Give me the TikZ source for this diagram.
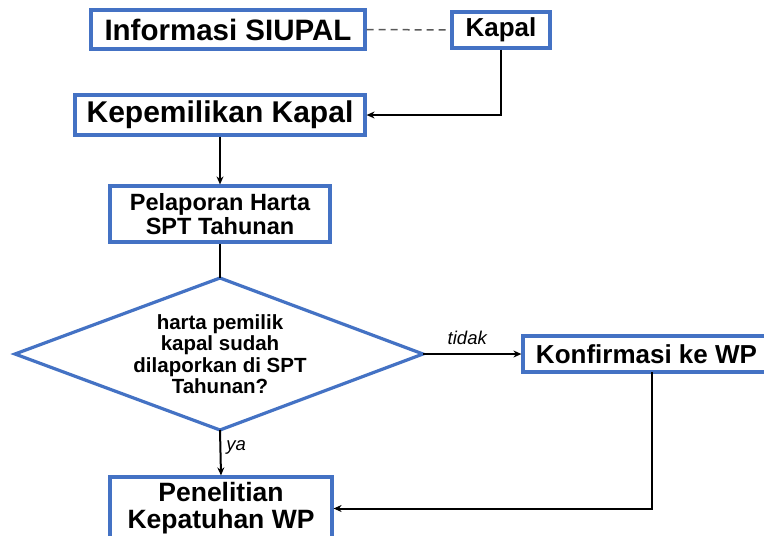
\documentclass[tikz,border=0pt]{standalone}
\usepackage{fontspec}
\setmainfont{Liberation Sans}
\usetikzlibrary{arrows.meta}
\definecolor{boxblue}{HTML}{4472C4}
\begin{document}
\begin{tikzpicture}[x=1pt,y=-1pt,
  box/.style={draw=boxblue,line width=3.2pt,fill=white,inner sep=0pt,font=\bfseries,align=center},
  conn/.style={line width=2pt,black},
  arr/.style={conn,-{Stealth[length=8pt,width=7pt]}},
  lbl/.style={font=\itshape\fontsize{18.5}{20}\selectfont,inner sep=0pt}]
\useasboundingbox (0,0) rectangle (764,536);
\clip (0,0) rectangle (764,536);
\fill[white] (0,0) rectangle (764,536);
% boxes
\node[box,minimum width=274pt,minimum height=39pt,font=\bfseries\fontsize{29.5}{31}\selectfont] (info) at (228,29.5) {Informasi SIUPAL};
\node[box,minimum width=98pt,minimum height=36pt,font=\bfseries\fontsize{26}{28}\selectfont] (kapal) at (501,30) {Kapal};
\node[box,minimum width=290pt,minimum height=40pt,font=\bfseries\fontsize{30}{32}\selectfont] (kepem) at (220,115) {Kepemilikan Kapal};
\node[box,minimum width=220pt,minimum height=56pt,font=\bfseries\fontsize{23.5}{24}\selectfont] (pelap) at (220,214) {Pelaporan Harta\\SPT Tahunan};
\node[box,minimum width=247pt,minimum height=36pt,font=\bfseries\fontsize{26}{28}\selectfont] (konf) at (646.5,354) {Konfirmasi ke WP};
\node[box,minimum width=222pt,minimum height=63pt,font=\bfseries\fontsize{26.5}{27}\selectfont] (penel) at (221,508.5) {Penelitian\\Kepatuhan WP};
% diamond
\coordinate (dtop) at (220,278);
\coordinate (dright) at (423,354);
\coordinate (dbot) at (220,430);
\coordinate (dleft) at (15,354);
\draw[draw=boxblue,line width=3.2pt,fill=white,line join=miter] (dtop) -- (dright) -- (dbot) -- (dleft) -- cycle;
\node[font=\bfseries\fontsize{20.5}{21.5}\selectfont,align=center,inner sep=0pt] (dia) at (220,354) {harta pemilik\\kapal sudah\\dilaporkan di SPT\\Tahunan?};
% connectors
\draw[conn,gray!70!black,line width=1.5pt,dash pattern=on 7pt off 5pt] (info.east) -- (kapal.west);
\draw[arr] (kapal.south) |- (kepem.east);
\draw[arr] (kepem.south) -- (pelap.north);
\draw[conn] (pelap.south) -- (dtop);
\draw[arr] (dright) -- node[lbl,above=8pt,pos=0.45] {tidak} (konf.west);
\draw[arr] (dbot) -- node[lbl,right=5pt,pos=0.38] {ya} (penel.north);
\coordinate (kdown) at (652,372);
\draw[arr] (kdown) |- (penel.east);
\end{tikzpicture}
\end{document}
